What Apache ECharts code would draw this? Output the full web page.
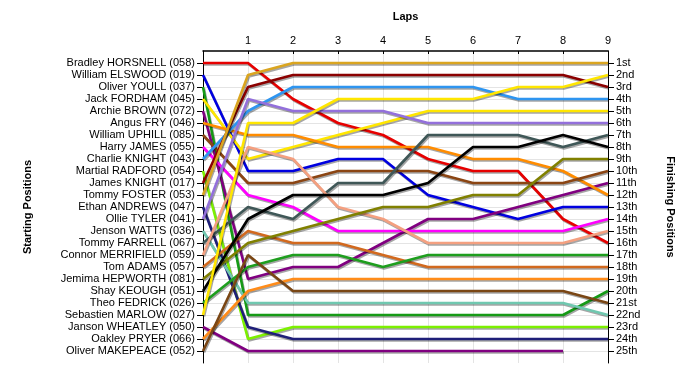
<!DOCTYPE html>
<html>
<head>
<meta charset="utf-8">
<script src="https://cdn.jsdelivr.net/npm/echarts@6/dist/echarts.min.js"></script>
<style>
html,body{margin:0;padding:0;background:#fff;}
#chart{width:700px;height:375px;}
</style>
</head>
<body>
<div id="chart"></div>
<script>
// ---- data ----
const laps = [0, 1, 2, 3, 4, 5, 6, 7, 8, 9];
const lapLabels = ['', '1', '2', '3', '4', '5', '6', '7', '8', '9'];
const drivers = [
  'Bradley HORSNELL (058)', 'William ELSWOOD (019)', 'Oliver YOULL (037)', 'Jack FORDHAM (045)',
  'Archie BROWN (072)', 'Angus FRY (046)', 'William UPHILL (085)', 'Harry JAMES (055)',
  'Charlie KNIGHT (043)', 'Martial RADFORD (054)', 'James KNIGHT (017)', 'Tommy FOSTER (053)',
  'Ethan ANDREWS (047)', 'Ollie TYLER (041)', 'Jenson WATTS (036)', 'Tommy FARRELL (067)',
  'Connor MERRIFIELD (059)', 'Tom ADAMS (057)', 'Jemima HEPWORTH (081)', 'Shay KEOUGH (051)',
  'Theo FEDRICK (026)', 'Sebastien MARLOW (027)', 'Janson WHEATLEY (050)', 'Oakley PRYER (066)',
  'Oliver MAKEPEACE (052)'
];
const finishLabels = ['1st','2nd','3rd','4th','5th','6th','7th','8th','9th','10th','11th','12th',
  '13th','14th','15th','16th','17th','18th','19th','20th','21st','22nd','23rd','24th','25th'];

// position of each driver at laps 0..9
const horsnell  = [1, 1, 4, 6, 7, 9, 10, 10, 14, 16];
const elswood   = [2, 10, 10, 9, 9, 12, 13, 14, 13, 13];
const youll     = [3, 22, 22, 22, 22, 22, 22, 22, 22, 20];
const fordham   = [4, 9, 8, 7, 6, 5, 5, 5, 5, 5];
const brown     = [5, 19, 18, 18, 16, 14, 14, 13, 12, 11];
const fry       = [6, 7, 7, 8, 8, 8, 9, 9, 10, 12];
const uphill    = [7, 11, 11, 10, 10, 10, 11, 11, 11, 10];
const james     = [8, 12, 13, 15, 15, 15, 15, 15, 15, 14];
const cknight   = [9, 5, 3, 3, 3, 3, 3, 4, 4, 4];
const radford   = [10, 24, 23, 23, 23, 23, 23, 23, 23, 23];
const jknight   = [11, 3, 2, 2, 2, 2, 2, 2, 2, 3];
const foster    = [12, 2, 1, 1, 1, 1, 1, 1, 1, 1];
const andrews   = [13, 23, 24, 24, 24, 24, 24, 24, 24, 24];
const tyler     = [14, 4, 5, 5, 5, 6, 6, 6, 6, 6];
const watts     = [15, 21, 21, 21, 21, 21, 21, 21, 21, 22];
const farrell   = [16, 13, 14, 11, 11, 7, 7, 7, 8, 7];
const merrifield= [17, 8, 9, 13, 14, 16, 16, 16, 16, 15];
const adams     = [18, 15, 16, 16, 17, 18, 18, 18, 18, 18];
const hepworth  = [19, 16, 15, 14, 13, 13, 12, 12, 9, 9];
const keough    = [20, 14, 12, 12, 12, 11, 8, 8, 7, 8];
const fedrick   = [21, 18, 17, 17, 18, 17, 17, 17, 17, 17];
const marlow    = [22, 6, 6, 4, 4, 4, 4, 3, 3, 2];
const wheatley  = [23, 25, 25, 25, 25, 25, 25, 25, 25, null];
const pryer     = [24, 20, 19, 19, 19, 19, 19, 19, 19, 19];
const makepeace = [25, 17, 20, 20, 20, 20, 20, 20, 20, 21];

const rows = [horsnell, elswood, youll, fordham, brown, fry, uphill, james, cknight, radford,
  jknight, foster, andrews, tyler, watts, farrell, merrifield, adams, hepworth, keough,
  fedrick, marlow, wheatley, pryer, makepeace];

const lineColors = [
  '#E60000', '#0000E0', '#169A16', '#FFE600', '#800080', '#FF8C00', '#8B4513', '#FF00FF',
  '#2E95F0', '#7CF000', '#8B0000', '#DAA520', '#1F1F78', '#9370DB', '#70C8B0', '#3F5757',
  '#F4A080', '#D2691E', '#808000', '#000000', '#1E9E1E', '#FFE600', '#800080', '#FF8C1A',
  '#7A4614'
];

const positions = drivers.map((d, i) => i + 1);

// ---- chart ----
const chart = echarts.init(document.getElementById('chart'), null, {renderer: 'canvas'});
const font = 'Liberation Sans, Arial, sans-serif';

const series = drivers.map((name, i) => ({
  type: 'line',
  name: name,
  yAxisIndex: 0,
  symbol: 'none',
  silent: true,
  data: laps.map((lap, k) => [lap, rows[i][k]]).filter(p => p[1] !== null),
  lineStyle: {
    color: lineColors[i],
    width: 2.6,
    shadowColor: 'rgba(0,0,0,0.35)',
    shadowBlur: 0,
    shadowOffsetX: 1,
    shadowOffsetY: 1.5
  },
  itemStyle: {color: lineColors[i]},
  z: 2
}));

const yCommon = {
  type: 'value',
  inverse: true,
  min: 0,
  max: 26,
  interval: 1,
  axisLine: {show: true, onZero: false, lineStyle: {color: '#000', width: 1}},
  axisTick: {show: true, length: 6, lineStyle: {color: '#000'}, customValues: positions},
  splitLine: {show: true, lineStyle: {color: '#e4e4e4', width: 1}},
  nameLocation: 'middle',
  nameTextStyle: {fontFamily: font, fontSize: 11, fontWeight: 'bold', color: '#000'}
};

chart.setOption({
  animation: false,
  backgroundColor: '#fff',
  grid: {left: 203, right: 92, top: 51, bottom: 12, containLabel: false},
  xAxis: {
    type: 'value',
    position: 'top',
    min: 0,
    max: 9,
    interval: 1,
    name: 'Laps',
    nameLocation: 'middle',
    nameGap: 29,
    nameTextStyle: {fontFamily: font, fontSize: 11, fontWeight: 'bold', color: '#000'},
    axisLine: {show: true, onZero: false, lineStyle: {color: '#000', width: 1.5}},
    axisTick: {show: true, inside: true, length: 3, lineStyle: {color: '#000'}},
    axisLabel: {
      fontFamily: font, fontSize: 11, color: '#000', margin: 5,
      formatter: v => lapLabels[v]
    },
    splitLine: {show: true, lineStyle: {color: '#e4e4e4', width: 1}}
  },
  yAxis: [
    Object.assign({}, yCommon, {
      position: 'left',
      name: 'Starting Positions',
      nameRotate: 90,
      nameGap: 170,
      axisLabel: {
        fontFamily: font, fontSize: 11, color: '#000', margin: 8,
        customValues: positions,
        formatter: v => drivers[v - 1] || ''
      }
    }),
    Object.assign({}, yCommon, {
      position: 'right',
      name: 'Finishing Positions',
      nameRotate: -90,
      nameGap: 57,
      splitLine: {show: false},
      axisLabel: {
        fontFamily: font, fontSize: 11, color: '#000', margin: 8,
        customValues: positions,
        formatter: v => finishLabels[v - 1] || ''
      }
    })
  ],
  series: series
});
</script>
</body>
</html>
